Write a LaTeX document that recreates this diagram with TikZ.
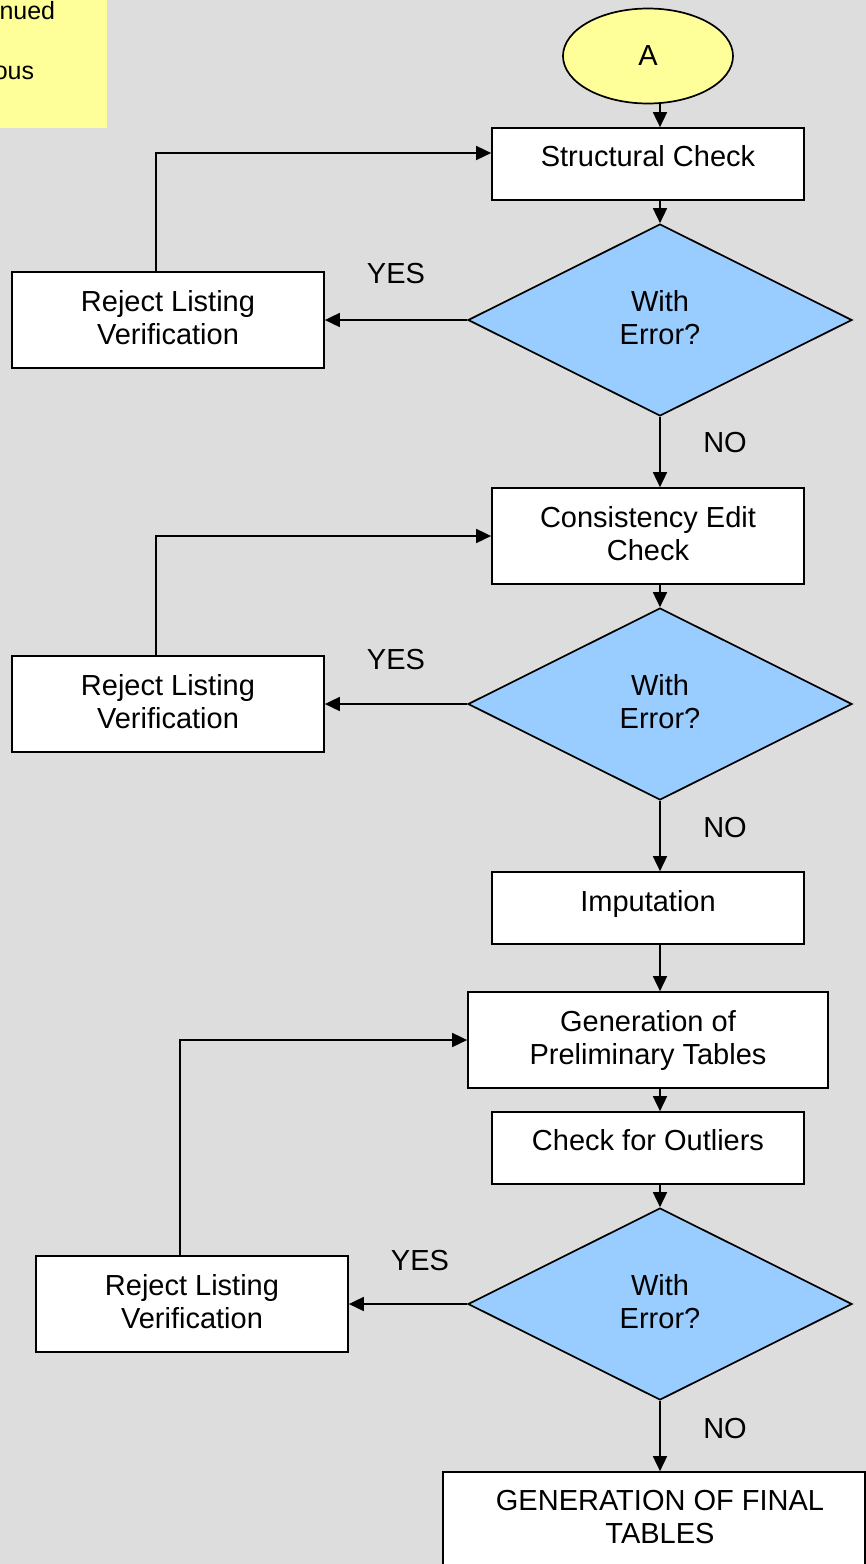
\documentclass[tikz,border=0pt]{standalone}
\usepackage{fontspec}
\setmainfont{Liberation Sans}
\usetikzlibrary{arrows.meta,shapes.geometric,calc}
\definecolor{bggray}{HTML}{DDDDDD}
\definecolor{noteyellow}{HTML}{FFFF99}
\definecolor{decblue}{HTML}{99CCFF}

\begin{document}
\begin{tikzpicture}[x=1pt,y=-1pt,
  line width=1.7pt,
  box/.style={draw=black, fill=white, rectangle, inner sep=0pt, minimum width=312pt},
  decision/.style={draw=black, fill=decblue, diamond, inner sep=0pt,
    minimum width=384pt, minimum height=192pt},
  lbl/.style={inner sep=0pt, align=center, font=\fontsize{29}{33}\selectfont},
  note/.style={inner sep=0pt, font=\fontsize{25}{29}\selectfont},
  arr/.style={-{Triangle[length=15pt,width=14pt]}}
]
% page and background
\useasboundingbox (0,0) rectangle (866,1564);
\clip (0,0) rectangle (866,1564);
\fill[bggray] (0,0) rectangle (866,1564);

% note in the corner
\fill[noteyellow] (0,0) rectangle (107,128);
\node[note, anchor=base east] (n1) at (56,19) {nued};
\node[note, anchor=base east] (n2) at (35,79) {ous};

% connector A
\node[draw=black, fill=noteyellow, ellipse, minimum width=170pt, minimum height=95pt,
      lbl] (A) at (648,56) {A};

% first block
\node[box, minimum height=72pt] (s1) at (648,164) {};
\node[lbl, below=17.5pt] (t1) at (s1.north) {Structural Check};
\node[decision] (d1) at (660,320) {};
\node[lbl, anchor=north, yshift=30pt] (td1) at (d1.center) {With\\Error?};
\node[box, minimum height=96pt] (r1) at (168,320) {};
\node[lbl, below=18pt] (tr1) at (r1.north) {Reject Listing\\Verification};

% second block
\node[box, minimum height=96pt] (s2) at (648,536) {};
\node[lbl, below=18.5pt] (t2) at (s2.north) {Consistency Edit\\Check};
\node[decision] (d2) at (660,704) {};
\node[lbl, anchor=north, yshift=30pt] (td2) at (d2.center) {With\\Error?};
\node[box, minimum height=96pt] (r2) at (168,704) {};
\node[lbl, below=18.5pt] (tr2) at (r2.north) {Reject Listing\\Verification};

% imputation and tables
\node[box, minimum height=72pt] (s3) at (648,908) {};
\node[lbl, below=18.5pt] (t3) at (s3.north) {Imputation};
\node[box, minimum width=360pt, minimum height=96pt] (s4) at (648,1040) {};
\node[lbl, below=18.5pt] (t4) at (s4.north) {Generation of\\Preliminary Tables};
\node[box, minimum height=72pt] (s5) at (648,1148) {};
\node[lbl, below=17.5pt] (t5) at (s5.north) {Check for Outliers};
\node[decision] (d3) at (660,1304) {};
\node[lbl, anchor=north, yshift=30pt] (td3) at (d3.center) {With\\Error?};
\node[box, minimum height=96pt] (r3) at (192,1304) {};
\node[lbl, below=18.5pt] (tr3) at (r3.north) {Reject Listing\\Verification};
\node[box, minimum width=422pt, minimum height=96pt] (fin) at (654,1520) {};
\node[lbl, below=18.5pt] (tf) at (d3.center |- fin.north) {GENERATION OF FINAL\\TABLES};

% branch labels
\node[lbl] (y1) at (396,274) {YES};
\node[lbl] (y2) at (396,660) {YES};
\node[lbl] (y3) at (420,1260) {YES};
\node[lbl] (no1) at (725,443) {NO};
\node[lbl] (no2) at (725,828) {NO};
\node[lbl] (no3) at (725,1428) {NO};

% main flow
\draw[arr] (A.south -| d1.north) -- (s1.north -| d1.north);
\draw[arr] (s1.south -| d1.north) -- (d1.north);
\draw[arr] (d1.south) -- (s2.north -| d1.south);
\draw[arr] (s2.south -| d2.north) -- (d2.north);
\draw[arr] (d2.south) -- (s3.north -| d2.south);
\draw[arr] (s3.south -| d2.south) -- (s4.north -| d2.south);
\draw[arr] (s4.south -| d2.south) -- (s5.north -| d2.south);
\draw[arr] (s5.south -| d3.north) -- (d3.north);
\draw[arr] (d3.south) -- (fin.north -| d3.south);

% rejection branches and loops back
\draw[arr] (d1.west) -- (r1.east);
\draw[arr] ([xshift=-12pt]r1.north) |- ([yshift=11pt]s1.west);
\draw[arr] (d2.west) -- (r2.east);
\draw[arr] ([xshift=-12pt]r2.north) |- (s2.west);
\draw[arr] (d3.west) -- (r3.east);
\draw[arr] ([xshift=-12pt]r3.north) |- (s4.west);
\end{tikzpicture}
\end{document}
